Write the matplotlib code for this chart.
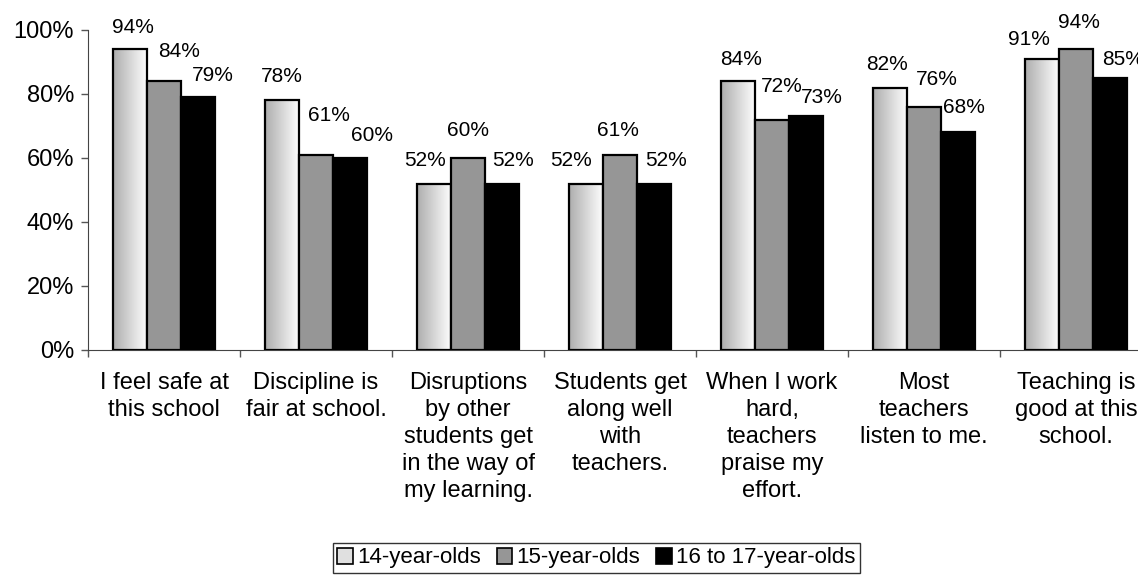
import numpy as np
import matplotlib.pyplot as plt
from matplotlib.patches import Patch

plt.rcParams['font.family'] = ['Liberation Sans', 'DejaVu Sans']

categories = [
    "I feel safe at\nthis school",
    "Discipline is\nfair at school.",
    "Disruptions\nby other\nstudents get\nin the way of\nmy learning.",
    "Students get\nalong well\nwith\nteachers.",
    "When I work\nhard,\nteachers\npraise my\neffort.",
    "Most\nteachers\nlisten to me.",
    "Teaching is\ngood at this\nschool.",
]
series_names = ["14-year-olds", "15-year-olds", "16 to 17-year-olds"]
age14 = [94, 78, 52, 52, 84, 82, 91]
age15 = [84, 61, 60, 61, 72, 76, 94]
age16_17 = [79, 60, 52, 52, 73, 68, 85]

# data label nudges (dx, gap above bar) in pixels, as Excel placed them
LABEL_NUDGE = [
    [(3, 14), (0, 16), (-9, 16), (-15, 16), (3, 14), (-3, 16), (-13, 12)],
    [(15, 22), (13, 32), (0, 20), (-2, 17), (10, 26), (13, 20), (3, 19)],
    [(15, 14), (22, 15), (11, 16), (12, 16), (16, 11), (6, 17), (13, 11)],
]

GRAY = "#969696"
BAR_W = 0.224
FS_VAL = 15
FS_AX = 17

fig = plt.figure(figsize=(11.38, 5.76), dpi=100)
ax = fig.add_axes([88 / 1138, 1 - 350 / 576, 1064 / 1138, 320 / 576])

x = np.arange(len(categories)) + 0.5
grad = np.linspace(0.68, 1.0, 64).reshape(1, -1)

series = [age14, age15, age16_17]
for i, vals in enumerate(series):
    pos = x + (i - 1) * BAR_W
    if i == 0:
        bars = ax.bar(pos, vals, BAR_W, facecolor='none', edgecolor='black', linewidth=1.6, zorder=3)
        for b in bars:
            im = ax.imshow(grad, cmap='gray', vmin=0, vmax=1, aspect='auto',
                           extent=[b.get_x(), b.get_x() + b.get_width(), 0, b.get_height()],
                           interpolation='bicubic', zorder=2)
            im.set_clip_path(b)
    else:
        color = GRAY if i == 1 else 'black'
        ax.bar(pos, vals, BAR_W, color=color, edgecolor='black', linewidth=1.6, zorder=3)
    for j, (p, v) in enumerate(zip(pos, vals)):
        dx, gap = LABEL_NUDGE[i][j]
        ax.annotate(f"{v}%", (p, v), xytext=(dx, gap - 2), textcoords='offset pixels',
                    ha='center', va='bottom', fontsize=FS_VAL, clip_on=False)

ax.set_xlim(0, len(categories))
ax.set_ylim(0, 100)
ax.set_yticks(range(0, 101, 20))
ax.set_yticklabels([f"{t}%" for t in range(0, 101, 20)], fontsize=FS_AX)
ax.set_xticks(np.arange(len(categories) + 1))
ax.set_xticklabels([])
ax.tick_params(axis='both', direction='out', length=5, width=1, color='#555555')
ax.tick_params(axis='y', pad=5)
for s in ['top', 'right']:
    ax.spines[s].set_visible(False)
ax.spines['left'].set_color('#444444')
ax.spines['bottom'].set_color('#444444')

for xc, lab in zip(x, categories):
    ax.annotate(lab, (xc, 0), xytext=(0, -22), textcoords='offset pixels',
                ha='center', va='top', fontsize=FS_AX, linespacing=1.3, clip_on=False)

handles = [Patch(facecolor='#e0e0e0', edgecolor='black', linewidth=1.2),
           Patch(facecolor=GRAY, edgecolor='black', linewidth=1.2),
           Patch(facecolor='black', edgecolor='black', linewidth=1.2)]
leg = fig.legend(handles, series_names, loc='center left', bbox_to_anchor=(333 / 1138, 1 - 558 / 576),
                 ncol=3, fontsize=16, frameon=True, fancybox=False, edgecolor='black',
                 handlelength=0.7, handleheight=0.7, handletextpad=0.2, columnspacing=0.7,
                 borderpad=0.2, borderaxespad=0)
leg.get_frame().set_linewidth(1.0)

fig.savefig("out.png", dpi=100)
